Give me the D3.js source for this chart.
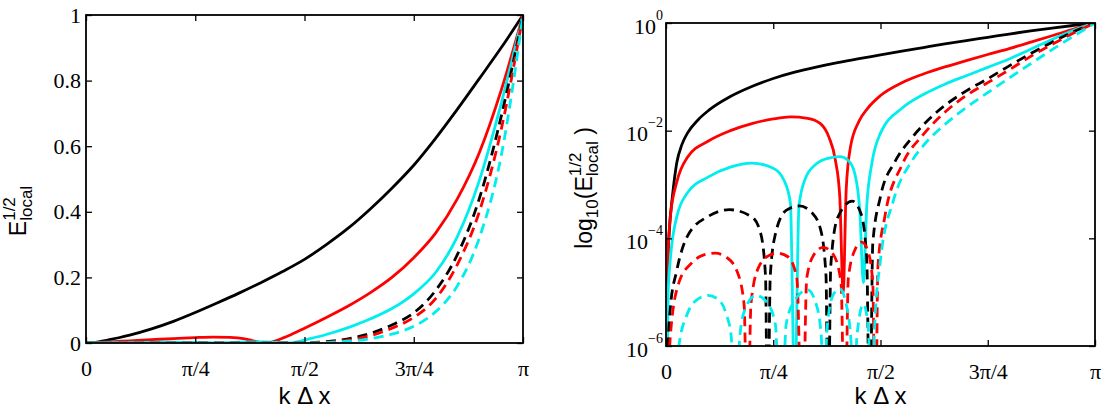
<!DOCTYPE html>
<html>
<head>
<meta charset="utf-8">
<script src="https://cdn.jsdelivr.net/npm/d3@7"></script>
<style>
  body { margin: 0; background: #fff; }
</style>
</head>
<body>
<svg id="fig" width="1112" height="408"></svg>
<script>
// kdx values are in units of pi, err values are E_local^(1/2)

// x axis
const xTicks = [0, 0.25, 0.5, 0.75, 1];
const xTickLabels = ["0", "π/4", "π/2", "3π/4", "π"];

// linear panel y axis
const linTicks = [0, 0.2, 0.4, 0.6, 0.8, 1];
const linTickLabels = ["0", "0.2", "0.4", "0.6", "0.8", "1"];

// log panel y axis
const logTicks = [1e-6, 1e-4, 1e-2, 1];
const logTickExps = ["−6", "−4", "−2", "0"];

// black solid
const kBlackSolid = [0, 0.003, 0.008, 0.015, 0.025, 0.037, 0.05, 0.075, 0.1, 0.15, 0.2, 0.25, 0.3, 0.35, 0.4, 0.45, 0.5, 0.55, 0.6, 0.65, 0.7, 0.75, 0.8, 0.85, 0.9, 0.95, 1];
const eBlackSolid = [1e-9, 2e-5, 1.5e-4, 6e-4, 2.5e-3, 5.5e-3, 9e-3, 0.016, 0.024, 0.043, 0.066, 0.093, 0.122, 0.152, 0.184, 0.218, 0.255, 0.3, 0.35, 0.408, 0.472, 0.542, 0.624, 0.713, 0.806, 0.9, 1];

// red solid
const kRedSolid = [0, 0.004, 0.01, 0.025, 0.05, 0.1, 0.15, 0.2, 0.25, 0.29, 0.33, 0.36, 0.38, 0.395, 0.405, 0.413, 0.42, 0.43, 0.45, 0.47, 0.5, 0.55, 0.6, 0.65, 0.7, 0.75, 0.8, 0.85, 0.9, 0.95, 1];
const eRedSolid = [1e-9, 3e-5, 2.5e-4, 1.1e-3, 3.2e-3, 6.5e-3, 0.01, 0.0135, 0.0165, 0.018, 0.017, 0.0135, 0.0075, 2.8e-3, 6e-4, 1e-5, 8e-4, 5e-3, 0.015, 0.026, 0.045, 0.078, 0.113, 0.153, 0.2, 0.26, 0.335, 0.44, 0.58, 0.77, 1];

// cyan solid
const kCyanSolid = [0, 0.005, 0.01, 0.025, 0.05, 0.1, 0.15, 0.2, 0.25, 0.275, 0.29, 0.3, 0.31, 0.325, 0.35, 0.38, 0.405, 0.425, 0.44, 0.452, 0.46, 0.468, 0.48, 0.5, 0.55, 0.6, 0.65, 0.7, 0.75, 0.8, 0.85, 0.9, 0.95, 1];
const eCyanSolid = [1e-9, 1e-5, 4e-5, 2.5e-4, 7e-4, 1.4e-3, 2.1e-3, 2.5e-3, 2e-3, 1.2e-3, 4.5e-4, 1e-7, 4e-4, 1.3e-3, 2.4e-3, 3.1e-3, 3.3e-3, 2.8e-3, 1.6e-3, 3e-4, 1.5e-5, 4e-4, 2.5e-3, 9e-3, 0.026, 0.047, 0.073, 0.105, 0.15, 0.215, 0.325, 0.495, 0.73, 1];

// black dashed
const kBlackDash = [0, 0.005, 0.01, 0.025, 0.05, 0.1, 0.148, 0.2, 0.22, 0.232, 0.237, 0.243, 0.255, 0.28, 0.311, 0.34, 0.36, 0.373, 0.378, 0.384, 0.4, 0.434, 0.455, 0.468, 0.475, 0.482, 0.5, 0.533, 0.574, 0.625, 0.7, 0.75, 0.8, 0.85, 0.9, 0.95, 1];
const eBlackDash = [1e-9, 1e-6, 5e-6, 2.5e-5, 1.1e-4, 2.6e-4, 3.4e-4, 2.5e-4, 1.3e-4, 2e-5, 1e-8, 2e-5, 1.2e-4, 3.3e-4, 4e-4, 3e-4, 1.5e-4, 2e-5, 1e-8, 3e-5, 2.4e-4, 4.9e-4, 2.8e-4, 4e-5, 1e-8, 8e-5, 6e-4, 2.6e-3, 7.5e-3, 0.02, 0.055, 0.092, 0.16, 0.27, 0.44, 0.69, 1];

// red dashed
const kRedDash = [0, 0.01, 0.03, 0.06, 0.09, 0.115, 0.14, 0.165, 0.182, 0.19, 0.198, 0.215, 0.24, 0.26, 0.285, 0.305, 0.318, 0.328, 0.345, 0.366, 0.39, 0.408, 0.417, 0.425, 0.44, 0.456, 0.47, 0.482, 0.488, 0.494, 0.51, 0.55, 0.6, 0.65, 0.7, 0.75, 0.8, 0.85, 0.9, 0.95, 1];
const eRedDash = [1e-9, 1.5e-6, 1.5e-5, 3.5e-5, 5e-5, 5.3e-5, 4.5e-5, 2.5e-5, 6e-6, 1e-8, 6e-6, 2.8e-5, 4.8e-5, 5.3e-5, 4.5e-5, 1.8e-5, 1e-8, 1.8e-5, 5e-5, 6.8e-5, 5e-5, 1.5e-5, 1e-8, 1.8e-5, 6e-5, 8.5e-5, 6e-5, 1.5e-5, 1e-8, 3e-5, 2.5e-4, 2.3e-3, 8.5e-3, 0.022, 0.045, 0.078, 0.135, 0.24, 0.4, 0.65, 1];

// cyan dashed
const kCyanDash = [0, 0.02, 0.03, 0.05, 0.075, 0.098, 0.12, 0.14, 0.152, 0.162, 0.172, 0.185, 0.21, 0.235, 0.255, 0.268, 0.28, 0.3, 0.33, 0.35, 0.362, 0.368, 0.375, 0.39, 0.405, 0.42, 0.432, 0.437, 0.445, 0.46, 0.472, 0.478, 0.486, 0.5, 0.53, 0.574, 0.6, 0.65, 0.7, 0.75, 0.8, 0.85, 0.9, 0.95, 1];
const eCyanDash = [1e-9, 1e-7, 1e-6, 4e-6, 7.5e-6, 8.7e-6, 7.5e-6, 4e-6, 1.5e-6, 1e-8, 1.5e-6, 5e-6, 8.7e-6, 6.5e-6, 2.5e-6, 1e-8, 2.5e-6, 7e-6, 1.1e-5, 6e-6, 1.5e-6, 1e-8, 2e-6, 9e-6, 1.15e-5, 6e-6, 1e-6, 1e-8, 1.5e-6, 6e-6, 2e-6, 1e-8, 2e-6, 4e-5, 5e-4, 2.8e-3, 5.3e-3, 0.013, 0.027, 0.051, 0.095, 0.175, 0.32, 0.57, 1];

const BLACK = "#000000";
const RED = "#ff0000";
const CYAN = "#00eeee";
const DASH = "10,6";

// draw order follows the reference
const series = [
  { k: kBlackSolid, e: eBlackSolid, colour: BLACK, dash: null },
  { k: kRedSolid, e: eRedSolid, colour: RED, dash: null },
  { k: kCyanSolid, e: eCyanSolid, colour: CYAN, dash: null },
  { k: kBlackDash, e: eBlackDash, colour: BLACK, dash: DASH },
  { k: kRedDash, e: eRedDash, colour: RED, dash: DASH },
  { k: kCyanDash, e: eCyanDash, colour: CYAN, dash: DASH }
];

const SERIF = "'Liberation Serif', 'Times New Roman', 'DejaVu Serif', serif";
const SANS = "'Liberation Sans', Arial, sans-serif";
const TICK_FONT = 22;
const LABEL_FONT = 23;
const SUB_FONT = 17;
const TICK_LEN = 6;

const svg = d3.select("#fig");

// panel boxes, in pixels
const left = { x0: 86, x1: 523, y0: 15, y1: 343 };
const right = { x0: 666, x1: 1095, y0: 23, y1: 346 };

// serif tick labels, set as inline style so the axis defaults can't win
function serifTicks(g) {
  g.selectAll(".tick text")
    .style("font-family", SERIF)
    .style("font-size", TICK_FONT + "px");
  g.selectAll(".tick line").attr("stroke-width", 1.3);
}

function drawPanel(box, y, yTicks, id) {
  let x = d3.scaleLinear().domain([0, 1]).range([box.x0, box.x1]);

  svg.append("clipPath").attr("id", id)
    .append("rect")
    .attr("x", box.x0).attr("y", box.y0)
    .attr("width", box.x1 - box.x0).attr("height", box.y1 - box.y0);

  let line = d3.line()
    .x(d => x(d[0]))
    .y(d => y(d[1]))
    .curve(d3.curveMonotoneX);

  let lines = svg.append("g").attr("clip-path", `url(#${id})`);
  series.forEach(s => {
    lines.append("path")
      .datum(s.k.map((k, i) => [k, s.e[i]]))
      .attr("fill", "none")
      .attr("stroke", s.colour)
      .attr("stroke-width", 2.8)
      .attr("stroke-dasharray", s.dash)
      .attr("d", line);
  });

  // bottom axis with labels, ticks pointing in
  svg.append("g")
    .attr("transform", `translate(0,${box.y1})`)
    .call(d3.axisBottom(x).tickValues(xTicks)
      .tickFormat((d, i) => xTickLabels[i])
      .tickSizeInner(-TICK_LEN).tickSizeOuter(0).tickPadding(17))
    .call(g => g.select(".domain").remove())
    .call(serifTicks);

  // top axis, ticks only
  svg.append("g")
    .attr("transform", `translate(0,${box.y0})`)
    .call(d3.axisTop(x).tickValues(xTicks).tickFormat("")
      .tickSizeInner(-TICK_LEN).tickSizeOuter(0))
    .call(g => g.select(".domain").remove())
    .call(serifTicks);

  // right axis, ticks only
  svg.append("g")
    .attr("transform", `translate(${box.x1},0)`)
    .call(d3.axisRight(y).tickValues(yTicks).tickFormat("")
      .tickSizeInner(-TICK_LEN).tickSizeOuter(0))
    .call(g => g.select(".domain").remove())
    .call(serifTicks);

  // frame
  svg.append("rect")
    .attr("x", box.x0).attr("y", box.y0)
    .attr("width", box.x1 - box.x0).attr("height", box.y1 - box.y0)
    .attr("fill", "none").attr("stroke", "#000").attr("stroke-width", 1.8);

  // x label
  svg.append("text")
    .attr("x", (box.x0 + box.x1) / 2).attr("y", 404)
    .attr("text-anchor", "middle")
    .style("font-family", SANS).style("font-size", "24px")
    .text("k Δ x");

  return x;
}

// rotated label built from pieces; sup and sub of the same base are stacked
function yLabel(parts, baseX, centreY) {
  let g = svg.append("g");
  let cursor = 0, stackWidth = 0;
  parts.forEach(p => {
    let size = p.shift ? SUB_FONT : LABEL_FONT;
    let t = g.append("text")
      .attr("x", cursor).attr("y", p.shift || 0)
      .style("font-family", SANS)
      .style("font-size", size + "px")
      .style("white-space", "pre")
      .text(p.text);
    let w = t.node().getComputedTextLength();
    if (p.stack) {
      stackWidth = w;
    } else {
      cursor += Math.max(w, stackWidth);
      stackWidth = 0;
    }
  });
  g.attr("transform", `translate(${baseX},${centreY + cursor / 2}) rotate(-90)`);
}

// left panel: linear
let yLin = d3.scaleLinear().domain([0, 1]).range([left.y1, left.y0]);
drawPanel(left, yLin, linTicks, "clipL");
svg.append("g")
  .attr("transform", `translate(${left.x0},0)`)
  .call(d3.axisLeft(yLin).tickValues(linTicks)
    .tickFormat((d, i) => linTickLabels[i])
    .tickSizeInner(-TICK_LEN).tickSizeOuter(0).tickPadding(5))
  .call(g => g.select(".domain").remove())
  .call(serifTicks);

yLabel([
  { text: "E" },
  { text: "1/2", shift: -11, stack: true },
  { text: "local", shift: 6 }
], 26, 211);

// right panel: log
let yLog = d3.scaleLog().domain([1e-6, 1]).range([right.y1, right.y0]);
drawPanel(right, yLog, logTicks, "clipR");
svg.append("g")
  .attr("transform", `translate(${right.x0},0)`)
  .call(d3.axisLeft(yLog).tickValues(logTicks).tickFormat("")
    .tickSizeInner(-TICK_LEN).tickSizeOuter(0).tickPadding(3))
  .call(g => g.select(".domain").remove())
  .call(serifTicks)
  .selectAll(".tick text")
  .attr("dy", 10)
  .each(function (d, i) {
    let t = d3.select(this);
    t.append("tspan").text("10");
    t.append("tspan").style("font-size", "14px").attr("dy", -14).text(logTickExps[i]);
  });

yLabel([
  { text: "log" },
  { text: "10", shift: 6 },
  { text: "(" },
  { text: "E" },
  { text: "1/2", shift: -11, stack: true },
  { text: "local", shift: 6 },
  { text: " )" }
], 592, 188);
</script>
</body>
</html>
